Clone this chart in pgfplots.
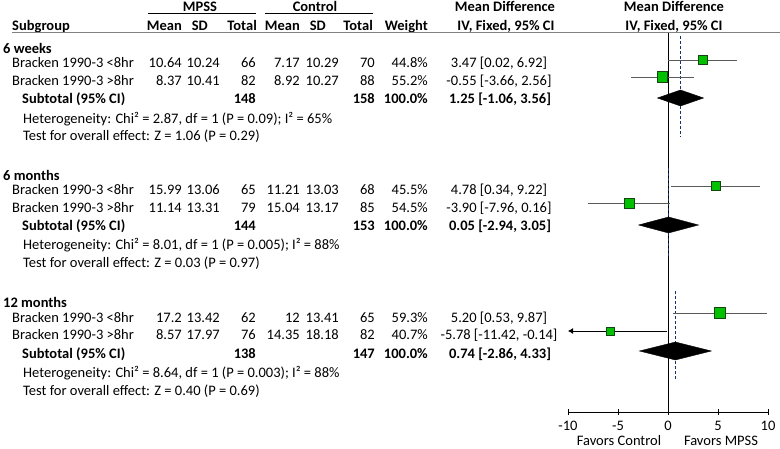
\documentclass[border=0pt]{standalone}
\usepackage{fontspec}
\setmainfont{Carlito}
\usepackage{pgfplots}
\pgfplotsset{compat=1.18}
\usetikzlibrary{arrows.meta}
\definecolor{sqgreen}{RGB}{0,192,0}
\definecolor{sqedge}{RGB}{20,70,20}
\definecolor{navy}{RGB}{25,45,110}
\definecolor{rulegray}{RGB}{128,128,128}
\definecolor{cigray}{RGB}{90,90,90}
\newcommand{\fs}{\fontsize{14.5}{17}\selectfont}
\newcommand{\studyrow}[9]{%
  \node[anchor=base west] at (12,#1) {#2};
  \node[anchor=base east] at (182,#1) {#3};
  \node[anchor=base east] at (220,#1) {#4};
  \node[anchor=base east] at (256,#1) {#5};
  \node[anchor=base east] at (300,#1) {#6};
  \node[anchor=base east] at (339,#1) {#7};
  \node[anchor=base east] at (375,#1) {#8};
  \node[anchor=base east] at (428,#1) {#9};
}
\newcommand{\subrow}[5]{%
  \node[anchor=base west,bf] at (22,#1) {Subtotal (95\% CI)};
  \node[anchor=base east,bf] at (256,#1) {#2};
  \node[anchor=base east,bf] at (375,#1) {#3};
  \node[anchor=base east,bf] at (428,#1) {#4};
  \node[anchor=base,bf] at (500,#1) {#5};
}
\begin{document}
\begin{tikzpicture}[font=\fs, every node/.style={inner sep=0pt}, bf/.style={font=\fs\bfseries}]
\useasboundingbox (0,0) rectangle (780pt,448pt);
\begin{scope}[x=1pt,y=-1pt,shift={(0pt,448pt)}]
% top headers
\node[anchor=base,bf] at (200,12) {MPSS};
\node[anchor=base,bf] at (315,12) {Control};
\draw[black,line width=1.2pt] (148,13.5) -- (256,13.5);
\draw[black,line width=1.2pt] (265,13.5) -- (373,13.5);
\node[anchor=base,bf] at (505,12) {Mean Difference};
\node[anchor=base,bf] at (674,12) {Mean Difference};
\node[anchor=base west,bf] at (12,30.5) {Subgroup};
\node[anchor=base east,bf] at (182,30.5) {Mean};
\node[anchor=base east,bf] at (208,30.5) {SD};
\node[anchor=base east,bf] at (257,30.5) {Total};
\node[anchor=base east,bf] at (300,30.5) {Mean};
\node[anchor=base east,bf] at (326,30.5) {SD};
\node[anchor=base east,bf] at (373,30.5) {Total};
\node[anchor=base east,bf] at (428,30.5) {Weight};
\node[anchor=base,bf] at (506,30.5) {IV, Fixed, 95\% CI};
\node[anchor=base,bf] at (674,30.5) {IV, Fixed, 95\% CI};
\draw[rulegray,line width=1pt] (12,33) -- (780,33);
% 6 weeks
\node[anchor=base west,bf] at (3,54) {6 weeks};
\studyrow{68}{Bracken 1990-3 <8hr}{10.64}{10.24}{66}{7.17}{10.29}{70}{44.8\%}
\node[anchor=base] at (499,68) {3.47 [0.02, 6.92]};
\studyrow{86}{Bracken 1990-3 >8hr}{8.37}{10.41}{82}{8.92}{10.27}{88}{55.2\%}
\node[anchor=base] at (499,86) {-0.55 [-3.66, 2.56]};
\subrow{104}{148}{158}{100.0\%}{1.25 [-1.06, 3.56]}
\node[anchor=base west] at (23,124) {Heterogeneity: Chi² = 2.87, df = 1 (P = 0.09); I² = 65\%};
\node[anchor=base west] at (23,141) {Test for overall effect: Z = 1.06 (P = 0.29)};
% 6 months
\node[anchor=base west,bf] at (3,181) {6 months};
\studyrow{195}{Bracken 1990-3 <8hr}{15.99}{13.06}{65}{11.21}{13.03}{68}{45.5\%}
\node[anchor=base] at (499,195) {4.78 [0.34, 9.22]};
\studyrow{213}{Bracken 1990-3 >8hr}{11.14}{13.31}{79}{15.04}{13.17}{85}{54.5\%}
\node[anchor=base] at (499,213) {-3.90 [-7.96, 0.16]};
\subrow{231}{144}{153}{100.0\%}{0.05 [-2.94, 3.05]}
\node[anchor=base west] at (23,250) {Heterogeneity: Chi² = 8.01, df = 1 (P = 0.005); I² = 88\%};
\node[anchor=base west] at (23,268) {Test for overall effect: Z = 0.03 (P = 0.97)};
% 12 months
\node[anchor=base west,bf] at (3,307) {12 months};
\studyrow{322}{Bracken 1990-3 <8hr}{17.2}{13.42}{62}{12}{13.41}{65}{59.3\%}
\node[anchor=base] at (499,322) {5.20 [0.53, 9.87]};
\studyrow{339}{Bracken 1990-3 >8hr}{8.57}{17.97}{76}{14.35}{18.18}{82}{40.7\%}
\node[anchor=base] at (499,339) {-5.78 [-11.42, -0.14]};
\subrow{358}{138}{147}{100.0\%}{0.74 [-2.86, 4.33]}
\node[anchor=base west] at (23,377) {Heterogeneity: Chi² = 8.64, df = 1 (P = 0.003); I² = 88\%};
\node[anchor=base west] at (23,395) {Test for overall effect: Z = 0.40 (P = 0.69)};
\end{scope}
\begin{axis}[
  at={(568pt,36pt)}, anchor=south west,
  width=200pt, height=379pt, scale only axis,
  xmin=-10, xmax=10, ymin=-412, ymax=-33,
  axis x line=bottom, axis y line=none,
  x axis line style={-, black, line width=0.8pt},
  xtick={-10,-5,0,5,10}, xticklabels={-10,-5,0,5,10},
  tick align=center, major tick length=6pt,
  every tick/.style={black, line width=0.8pt},
  xticklabel style={anchor=base, yshift=-15.5pt, font=\fs},
  clip=false,
]
\addplot[black, line width=0.8pt] coordinates {(0,-33) (0,-412)};
\addplot[navy, line width=1.1pt, dash pattern=on 3pt off 2pt] coordinates {(1.25,-36) (1.25,-137)};
\addplot[navy, line width=1.1pt, dash pattern=on 3pt off 2pt] coordinates {(0.05,-168) (0.05,-258)};
\addplot[navy, line width=1.1pt, dash pattern=on 3pt off 2pt] coordinates {(0.74,-291) (0.74,-380)};
% confidence intervals
\addplot[cigray, line width=0.9pt] coordinates {(0.02,-60) (6.92,-60)};
\addplot[cigray, line width=0.9pt] coordinates {(-3.66,-77) (2.56,-77)};
\addplot[cigray, line width=0.9pt] coordinates {(0.34,-186) (9.22,-186)};
\addplot[cigray, line width=0.9pt] coordinates {(-7.96,-203) (0.16,-203)};
\addplot[cigray, line width=0.9pt] coordinates {(0.53,-313) (9.87,-313)};
\addplot[black, line width=0.9pt, -{Latex[length=5pt,width=6pt]}] coordinates {(-0.14,-331) (-10,-331)};
% squares
\addplot[only marks, mark=square*, mark size=4.4pt, mark options={fill=sqgreen, draw=sqedge, line width=0.6pt}] coordinates {(3.47,-60)};
\addplot[only marks, mark=square*, mark size=5.2pt, mark options={fill=sqgreen, draw=sqedge, line width=0.6pt}] coordinates {(-0.55,-77)};
\addplot[only marks, mark=square*, mark size=4.5pt, mark options={fill=sqgreen, draw=sqedge, line width=0.6pt}] coordinates {(4.78,-186)};
\addplot[only marks, mark=square*, mark size=5.1pt, mark options={fill=sqgreen, draw=sqedge, line width=0.6pt}] coordinates {(-3.90,-203)};
\addplot[only marks, mark=square*, mark size=5.5pt, mark options={fill=sqgreen, draw=sqedge, line width=0.6pt}] coordinates {(5.20,-313)};
\addplot[only marks, mark=square*, mark size=4.1pt, mark options={fill=sqgreen, draw=sqedge, line width=0.6pt}] coordinates {(-5.78,-331)};
% diamonds
\addplot[fill=black, draw=black] coordinates {(-1.06,-98) (1.25,-90) (3.56,-98) (1.25,-106)} --cycle;
\addplot[fill=black, draw=black] coordinates {(-2.94,-225) (0.05,-217) (3.05,-225) (0.05,-233)} --cycle;
\addplot[fill=black, draw=black] coordinates {(-2.86,-351) (0.74,-342) (4.33,-351) (0.74,-360)} --cycle;
\node[anchor=base, font=\fs] at (axis cs:-4.9,-445) {Favors Control};
\node[anchor=base, font=\fs] at (axis cs:5.3,-445) {Favors MPSS};
\end{axis}
\end{tikzpicture}
\end{document}
